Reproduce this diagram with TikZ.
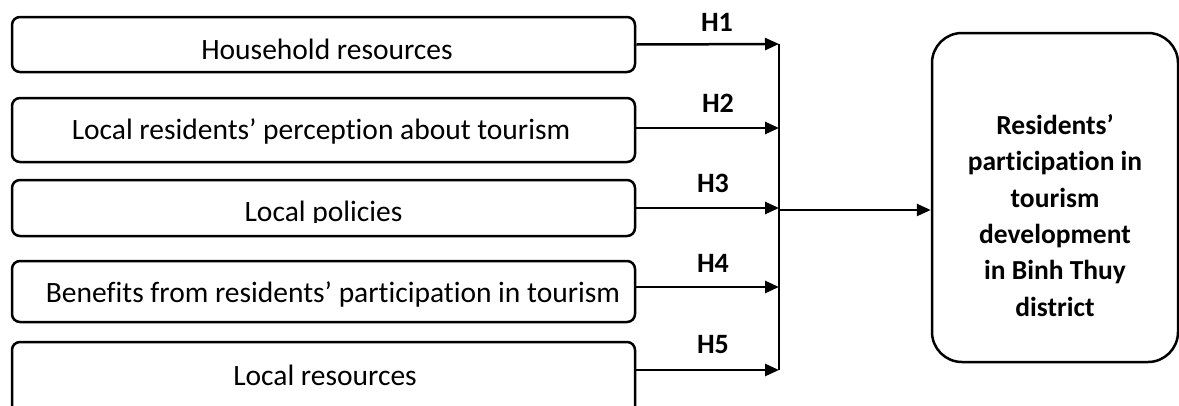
\documentclass[tikz,border=0pt]{standalone}
\usepackage{fontspec}
\setmainfont{Carlito}[Ligatures=NoCommon]
\usetikzlibrary{arrows.meta,calc}
\begin{document}
\begin{tikzpicture}[x=1pt,y=-1pt,
  inbox/.style={draw,line width=2.5pt,rounded corners=8pt,rectangle,minimum width=623pt,inner sep=0pt},
  intext/.style={font=\fontsize{29.5}{34}\selectfont,inner sep=0pt,anchor=base},
  hlab/.style={font=\bfseries\fontsize{28}{32}\selectfont,inner sep=0pt},
  arr/.style={line width=2.5pt,-{Triangle[length=14pt,width=12pt]}},
  ln/.style={line width=2.5pt}]
\useasboundingbox (0,0) rectangle (1179,405);
\node[inbox,minimum height=55pt] (b1) at (323.5,44.5) {};
\node[inbox,minimum height=64pt] (b2) at (323.5,130) {};
\node[inbox,minimum height=56pt] (b3) at (323.5,208) {};
\node[inbox,minimum height=61pt] (b4) at (323.5,291.5) {};
\node[inbox,minimum height=90pt] (b5) at (323.5,387) {};
\node[intext] (t1) at (327,59) {Household resources};
\node[intext] (t2) at (321,139) {Local residents’ perception about tourism};
\begin{scope}
\clip (12,180) rectangle (635,222);
\node[intext] (t3) at (323.5,221.5) {Local policies};
\end{scope}
\node[intext] (t4) at (333,302) {Benefits from residents’ participation in tourism};
\node[intext] (t5) at (325,385) {Local resources};
\node[draw,line width=2.5pt,rounded corners=30pt,rectangle,minimum width=246pt,minimum height=329pt,inner sep=0pt] (out) at (1055,197.5) {};
\node[align=center,inner sep=0pt,font=\bfseries\fontsize{27.5}{36.3}\selectfont] (outtext) at (1055,215.5)
  {Residents’\\participation in\\tourism\\development\\in Binh Thuy\\district};
\coordinate (v1) at (779,44);
\coordinate (v2) at (779,128);
\coordinate (v3) at (779,208);
\coordinate (v4) at (779,287);
\coordinate (v5) at (779,370);
\coordinate (m) at (779,210);
\draw[ln] (v1) -- (v5);
\draw[arr] (b1.east) -- (v1);
\draw[arr] (b2.east |- v2) -- (v2);
\draw[arr] (b3.east |- v3) -- (v3);
\draw[arr] (b4.east |- v4) -- (v4);
\draw[arr] (b5.east |- v5) -- (v5);
\draw[arr] (m) -- (m -| out.west);
\node[hlab] (h1) at (717,22) {H1};
\node[hlab] (h2) at (718,103) {H2};
\node[hlab] (h3) at (713,183) {H3};
\node[hlab] (h4) at (713,263) {H4};
\node[hlab] (h5) at (713,345) {H5};
\end{tikzpicture}
\end{document}
